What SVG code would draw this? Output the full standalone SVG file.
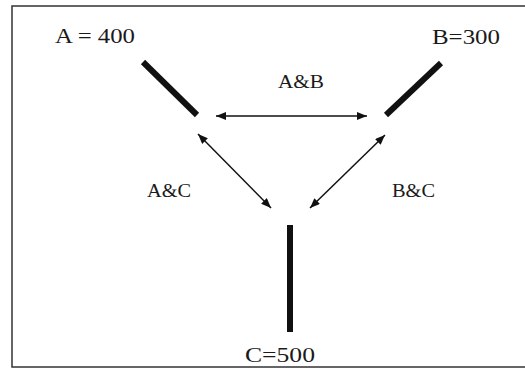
<svg xmlns="http://www.w3.org/2000/svg" width="525" height="369" viewBox="0 0 525 369">
<style>
.t{font-family:"Liberation Serif","Times New Roman",serif;fill:#1a1a1a}
.n{font-size:21px}
.e{font-size:19px}
.bar{stroke:#111;stroke-width:6;stroke-linecap:butt}
.arr{stroke:#111;stroke-width:1.5;fill:none;marker-start:url(#h);marker-end:url(#h)}
</style>
<defs>
<marker id="h" viewBox="0 0 10 8" refX="10" refY="4" markerWidth="10" markerHeight="8" markerUnits="userSpaceOnUse" orient="auto-start-reverse">
<path d="M0,0 L10,4 L0,8 z" fill="#111"/>
</marker>
</defs>
<rect x="12" y="6" width="530" height="361" fill="#fff" stroke="#333" stroke-width="1.5"/>
<g id="nodeA">
<line class="bar" x1="143" y1="62" x2="197" y2="115"/>
<text class="t n" x="55" y="43" textLength="80" lengthAdjust="spacingAndGlyphs">A = 400</text>
</g>
<g id="nodeB">
<line class="bar" x1="441" y1="63" x2="386" y2="115"/>
<text class="t n" x="432" y="44" textLength="68" lengthAdjust="spacingAndGlyphs">B=300</text>
</g>
<g id="nodeC">
<line class="bar" x1="290" y1="225" x2="290" y2="332"/>
<text class="t n" x="245" y="362" textLength="70" lengthAdjust="spacingAndGlyphs">C=500</text>
</g>
<g id="connectors">
<line class="arr" x1="216" y1="116" x2="367" y2="116"/>
<line class="arr" x1="198" y1="134" x2="271" y2="208"/>
<line class="arr" x1="385" y1="135" x2="310" y2="208"/>
</g>
<g id="labels">
<text class="t e" x="278" y="88" textLength="46" lengthAdjust="spacingAndGlyphs">A&amp;B</text>
<text class="t e" x="147" y="197" textLength="44" lengthAdjust="spacingAndGlyphs">A&amp;C</text>
<text class="t e" x="392" y="197" textLength="43" lengthAdjust="spacingAndGlyphs">B&amp;C</text>
</g>
</svg>
